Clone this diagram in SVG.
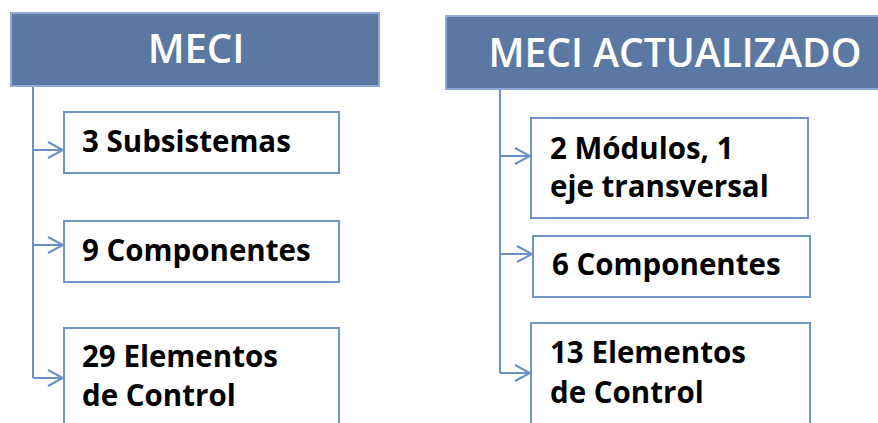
<svg xmlns="http://www.w3.org/2000/svg" width="878" height="423" viewBox="0 0 878 423">
<defs>
<style>
.hdr{fill:#5b78a2;stroke:#8eaad6;stroke-width:2}
.htxt{fill:#ffffff;font-family:"Open Sans",sans-serif;font-size:40px;font-weight:600}
.box{fill:#ffffff;stroke:#7096c8;stroke-width:2}
.btxt{fill:#000000;font-family:"Open Sans",sans-serif;font-size:29.5px;font-weight:700}
.con{fill:none;stroke:#6b90c8;stroke-width:2}
</style>
<marker id="arr" viewBox="0 0 20 20" refX="18" refY="10" markerWidth="20" markerHeight="20" markerUnits="userSpaceOnUse" orient="auto">
<path d="M3,2 L18,10 L3,18" fill="none" stroke="#6b90c8" stroke-width="2"/>
</marker>
</defs>
<rect width="878" height="423" fill="#ffffff"/>
<g id="connectors">
<path class="con" d="M33,86 V378"/>
<path class="con" d="M33,150 H63" marker-end="url(#arr)"/>
<path class="con" d="M33,245 H63" marker-end="url(#arr)"/>
<path class="con" d="M33,378 H63" marker-end="url(#arr)"/>
<path class="con" d="M500,89 V373"/>
<path class="con" d="M500,156 H530" marker-end="url(#arr)"/>
<path class="con" d="M500,254 H532" marker-end="url(#arr)"/>
<path class="con" d="M500,373 H530" marker-end="url(#arr)"/>
</g>
<g id="meci">
<rect class="hdr" x="11" y="13" width="368" height="73"/>
<text class="htxt" x="196" y="63" text-anchor="middle">MECI</text>
</g>
<g id="meci-actualizado">
<rect class="hdr" x="446" y="16" width="440" height="73"/>
<text class="htxt" x="675" y="67" text-anchor="middle" textLength="373" lengthAdjust="spacingAndGlyphs">MECI ACTUALIZADO</text>
</g>
<g id="subsistemas">
<rect class="box" x="64" y="112" width="275" height="61"/>
<text class="btxt" x="82" y="152">3 Subsistemas</text>
</g>
<g id="componentes9">
<rect class="box" x="64" y="221" width="275" height="61"/>
<text class="btxt" x="82" y="261">9 Componentes</text>
</g>
<g id="elementos29">
<rect class="box" x="64" y="328" width="275" height="110"/>
<text class="btxt" x="82" y="367">29 Elementos</text>
<text class="btxt" x="82" y="406">de Control</text>
</g>
<g id="modulos">
<rect class="box" x="531" y="118" width="277" height="100"/>
<text class="btxt" x="550" y="159">2 Módulos, 1</text>
<text class="btxt" x="550" y="197">eje transversal</text>
</g>
<g id="componentes6">
<rect class="box" x="533" y="236" width="277" height="61"/>
<text class="btxt" x="552" y="275">6 Componentes</text>
</g>
<g id="elementos13">
<rect class="box" x="531" y="323" width="279" height="115"/>
<text class="btxt" x="550" y="363">13 Elementos</text>
<text class="btxt" x="550" y="403">de Control</text>
</g>
</svg>
